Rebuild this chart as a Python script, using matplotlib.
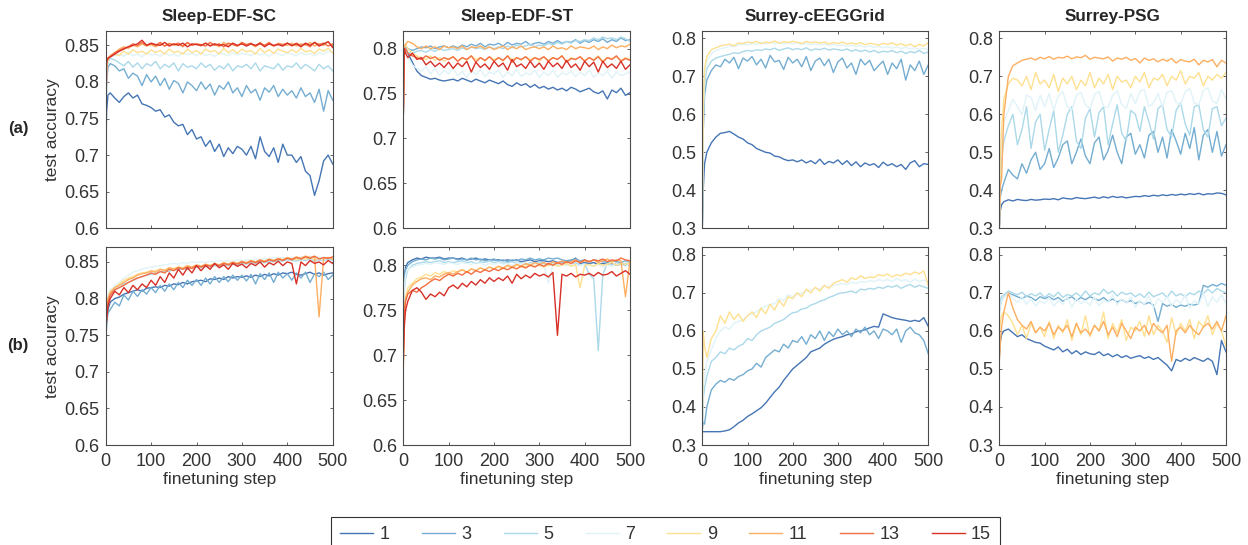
import numpy as np
import matplotlib
matplotlib.use("Agg")
import matplotlib.pyplot as plt

plt.rcParams['font.family'] = ['Liberation Sans', 'DejaVu Sans']

# ---------------- data (accuracy in thousandths) ----------------
steps = [0, 2, 5] + list(range(10, 501, 10))
k_labels = ['1', '3', '5', '7', '9', '11', '13', '15']
k_colors = ['#4575b4', '#74add1', '#abd9e9', '#e0f3f8',
            '#fee090', '#fdae61', '#f46d43', '#d73027']
datasets = ['Sleep-EDF-SC', 'Sleep-EDF-ST', 'Surrey-cEEGGrid', 'Surrey-PSG']
row_tags = ['(a)', '(b)']

# ---- (a) Sleep-EDF-SC ----
sc_a_1 = [700, 760, 782,
          785, 778, 772, 780, 785, 778, 782, 770, 768, 765,
          760, 762, 752, 755, 745, 740, 742, 728, 735, 722,
          725, 712, 720, 705, 715, 698, 710, 702, 712, 708,
          700, 712, 695, 725, 705, 698, 710, 690, 715, 700,
          700, 690, 698, 678, 672, 645, 665, 692, 700, 688]
sc_a_3 = [720, 800, 820,
          825, 822, 815, 818, 805, 812, 808, 795, 810, 800,
          808, 795, 805, 790, 802, 798, 785, 800, 795, 788,
          800, 790, 797, 782, 795, 790, 800, 785, 792, 780,
          795, 785, 790, 775, 792, 786, 795, 780, 790, 782,
          788, 778, 792, 780, 785, 772, 790, 760, 788, 775]
sc_a_5 = [705, 810, 828,
          832, 830, 826, 822, 828, 820, 826, 818, 825, 822,
          828, 818, 824, 820, 826, 815, 825, 820, 822, 818,
          826, 820, 824, 816, 822, 818, 825, 815, 822, 820,
          824, 818, 826, 815, 822, 820, 818, 825, 816, 822,
          820, 826, 818, 824, 820, 815, 824, 818, 822, 815]
sc_a_7 = [720, 815, 830,
          834, 836, 838, 835, 840, 836, 838, 834, 840, 837,
          838, 835, 840, 836, 838, 835, 840, 837, 839, 836,
          840, 836, 838, 835, 840, 838, 836, 840, 837, 839,
          838, 836, 840, 837, 838, 835, 840, 838, 836, 840,
          838, 836, 840, 837, 839, 836, 840, 838, 842, 840]
sc_a_9 = [725, 820, 830,
          835, 838, 836, 842, 838, 844, 840, 842, 838, 844,
          840, 843, 838, 845, 840, 842, 838, 845, 840, 843,
          838, 845, 841, 843, 838, 846, 840, 844, 839, 845,
          841, 843, 838, 846, 840, 844, 839, 845, 842, 840,
          844, 840, 846, 841, 843, 839, 845, 842, 846, 840]
sc_a_11 = [728, 825, 832,
           836, 840, 845, 848, 846, 850, 848, 852, 849, 851,
           848, 852, 849, 853, 850, 852, 848, 853, 850, 852,
           849, 853, 850, 852, 848, 854, 850, 852, 849, 853,
           850, 852, 848, 854, 850, 852, 849, 853, 851, 850,
           853, 849, 852, 850, 854, 849, 852, 850, 855, 848]
sc_a_13 = [730, 826, 833,
           835, 840, 843, 846, 848, 852, 850, 854, 850, 852,
           850, 854, 849, 852, 851, 853, 849, 854, 850, 852,
           851, 849, 854, 850, 852, 848, 853, 851, 849, 854,
           851, 853, 849, 852, 850, 854, 849, 852, 851, 853,
           849, 853, 850, 852, 848, 854, 851, 853, 849, 852]
sc_a_15 = [730, 828, 832,
           834, 838, 842, 845, 848, 850, 852, 857, 850, 853,
           851, 850, 854, 849, 852, 850, 853, 848, 852, 851,
           850, 853, 849, 852, 850, 851, 848, 853, 850, 852,
           849, 852, 850, 853, 848, 852, 850, 851, 849, 853,
           850, 852, 848, 853, 850, 854, 849, 852, 855, 847]

# ---- (a) Sleep-EDF-ST ----
st_a_1 = [725, 800, 800,
          795, 785, 775, 770, 768, 766, 767, 765, 764, 765,
          766, 764, 767, 765, 763, 766, 764, 762, 765, 763,
          761, 764, 760, 758, 762, 759, 761, 757, 760, 756,
          758, 755, 757, 754, 756, 753, 757, 755, 752, 754,
          756, 752, 750, 753, 744, 754, 751, 756, 748, 751]
st_a_3 = [725, 800, 802,
          800, 798, 800, 802, 801, 803, 800, 802, 803, 801,
          803, 801, 804, 802, 805, 803, 806, 802, 805, 804,
          806, 803, 807, 804, 806, 805, 808, 804, 806, 807,
          805, 808, 806, 809, 806, 808, 807, 810, 806, 809,
          807, 810, 808, 811, 807, 810, 808, 812, 809, 810]
st_a_5 = [725, 798, 800,
          796, 795, 797, 798, 796, 799, 797, 800, 798, 799,
          800, 798, 801, 799, 802, 800, 801, 799, 802, 800,
          802, 800, 803, 801, 804, 802, 803, 805, 802, 804,
          803, 806, 804, 807, 805, 808, 806, 809, 808, 810,
          809, 812, 810, 813, 811, 812, 810, 813, 811, 808]
st_a_7 = [725, 798, 795,
          790, 782, 778, 775, 780, 772, 778, 770, 776, 772,
          778, 770, 775, 768, 776, 771, 777, 769, 774, 772,
          776, 768, 774, 770, 777, 769, 773, 771, 776, 768,
          774, 770, 776, 768, 773, 771, 775, 769, 774, 770,
          776, 768, 773, 770, 775, 767, 774, 770, 772, 774]
st_a_9 = [725, 800, 805,
          800, 795, 792, 790, 788, 792, 787, 790, 786, 789,
          791, 786, 790, 787, 792, 788, 790, 786, 791, 788,
          790, 786, 792, 788, 790, 787, 791, 788, 790, 786,
          791, 787, 790, 788, 792, 786, 790, 788, 791, 787,
          790, 788, 792, 786, 790, 789, 791, 787, 790, 788]
st_a_11 = [725, 802, 805,
           808, 806, 802, 800, 803, 800, 802, 799, 803, 801,
           802, 800, 803, 799, 802, 801, 803, 800, 802, 799,
           801, 803, 799, 802, 800, 803, 799, 801, 802, 800,
           802, 799, 803, 800, 801, 799, 803, 800, 802, 801,
           800, 803, 799, 802, 800, 804, 801, 803, 802, 805]
st_a_13 = [725, 798, 800,
           795, 792, 790, 788, 792, 789, 791, 787, 790, 788,
           791, 786, 790, 788, 792, 785, 790, 787, 791, 786,
           790, 787, 792, 785, 790, 788, 791, 786, 790, 788,
           791, 786, 790, 788, 792, 785, 789, 788, 791, 786,
           790, 787, 791, 785, 790, 788, 792, 786, 789, 787]
st_a_15 = [725, 800, 795,
           790, 795, 788, 790, 782, 786, 780, 784, 779, 785,
           778, 784, 780, 786, 774, 785, 779, 783, 777, 786,
           780, 784, 776, 788, 780, 783, 778, 786, 779, 784,
           777, 786, 780, 784, 778, 787, 779, 783, 776, 786,
           780, 785, 774, 786, 779, 783, 778, 786, 777, 782]

# ---- (a) Surrey-cEEGGrid ----
cg_a_1 = [300, 400, 470,
          500, 525, 540, 550, 552, 555, 548, 540, 535, 525,
          520, 510, 505, 500, 498, 490, 488, 482, 478, 480,
          475, 480, 472, 478, 470, 482, 468, 476, 472, 480,
          468, 478, 465, 475, 462, 472, 466, 470, 460, 474,
          465, 470, 462, 468, 455, 472, 478, 462, 470, 468]
cg_a_3 = [300, 550, 650,
          690, 715, 730, 725, 745, 735, 750, 720, 748, 740,
          752, 730, 745, 722, 755, 738, 742, 718, 750, 735,
          745, 725, 752, 715, 740, 748, 728, 745, 710, 738,
          748, 722, 735, 705, 745, 730, 742, 715, 728, 740,
          705, 735, 720, 745, 690, 730, 715, 740, 705, 730]
cg_a_5 = [300, 580, 680,
          720, 740, 748, 752, 755, 758, 762, 760, 765, 768,
          766, 770, 768, 772, 770, 774, 768, 772, 775, 770,
          773, 770, 775, 768, 772, 770, 774, 769, 772, 770,
          768, 772, 766, 770, 765, 769, 764, 768, 762, 766,
          764, 768, 762, 766, 760, 765, 762, 768, 760, 764]
cg_a_7 = [300, 600, 700,
          740, 760, 768, 772, 775, 780, 778, 782, 785, 783,
          786, 784, 788, 785, 790, 786, 789, 785, 788, 786,
          788, 784, 787, 783, 786, 782, 785, 781, 784, 780,
          783, 779, 782, 778, 781, 777, 780, 776, 779, 775,
          778, 774, 777, 773, 776, 772, 775, 771, 774, 770]
cg_a_9 = [300, 620, 720,
          752, 770, 775, 780, 782, 785, 780, 788, 786, 790,
          788, 792, 786, 790, 788, 793, 787, 791, 789, 792,
          790, 786, 792, 788, 791, 787, 790, 785, 789, 786,
          790, 785, 788, 784, 789, 783, 787, 785, 782, 787,
          784, 788, 782, 786, 780, 785, 778, 784, 780, 788]

# ---- (a) Surrey-PSG ----
psg_a_1 = [300, 345, 362,
           370, 375, 372, 376, 374, 373, 376, 374, 375, 377,
           376, 378, 375, 380, 378, 377, 381, 379, 378, 380,
           382, 379, 383, 380, 384, 381, 383, 380, 382, 384,
           383, 386, 384, 387, 385, 388, 386, 389, 387, 390,
           388, 391, 389, 392, 388, 391, 390, 393, 392, 388]
psg_a_3 = [300, 380, 400,
           420, 455, 440, 430, 470, 445, 480, 500, 455, 470,
           510, 460, 485, 520, 530, 470, 500, 535, 490, 470,
           525, 540, 480, 505, 545, 500, 470, 540, 550, 495,
           520, 485, 545, 555, 500, 540, 485, 560, 530, 495,
           550, 510, 565, 480, 545, 560, 500, 555, 490, 520]
psg_a_5 = [300, 420, 480,
           530, 570, 600, 520, 560, 620, 510, 580, 600, 505,
           560, 610, 500, 545, 600, 620, 530, 510, 590, 615,
           540, 605, 620, 520, 575, 625, 550, 530, 610, 600,
           555, 620, 580, 535, 615, 625, 560, 540, 610, 630,
           575, 545, 620, 625, 560, 540, 615, 620, 570, 590]
psg_a_7 = [300, 450, 520,
           580, 610, 640, 620, 600, 650, 645, 610, 650, 620,
           655, 610, 648, 660, 620, 612, 650, 658, 625, 615,
           652, 660, 620, 618, 650, 662, 625, 615, 655, 628,
           660, 665, 620, 630, 655, 620, 658, 662, 632, 625,
           660, 668, 630, 625, 662, 670, 635, 628, 665, 640]
psg_a_9 = [300, 480, 560,
           640, 680, 695, 690, 675, 700, 665, 710, 680, 690,
           670, 705, 660, 695, 680, 700, 665, 690, 675, 710,
           670, 695, 680, 705, 665, 700, 685, 690, 670, 700,
           685, 710, 670, 695, 690, 705, 675, 700, 690, 715,
           680, 700, 695, 710, 675, 700, 690, 705, 695, 710]
psg_a_11 = [300, 410, 430,
            600, 700, 728, 735, 742, 745, 748, 743, 750, 746,
            752, 745, 750, 748, 753, 746, 751, 749, 755, 745,
            750, 748, 746, 751, 740, 748, 745, 750, 742, 747,
            735, 748, 742, 746, 738, 745, 740, 747, 735, 744,
            740, 738, 745, 730, 742, 738, 744, 725, 742, 735]

# ---- (b) Sleep-EDF-SC ----
sc_b_1 = [730, 770, 785,
          795, 800, 802, 806, 808, 810, 812, 810, 814, 815,
          816, 815, 818, 817, 820, 819, 822, 820, 823, 824,
          825, 823, 827, 826, 828, 826, 830, 828, 830, 829,
          831, 829, 832, 830, 833, 831, 834, 832, 835, 834,
          836, 833, 832, 834, 836, 833, 835, 832, 834, 835]
sc_b_3 = [740, 765, 780,
          785, 795, 790, 805, 798, 810, 803, 812, 806, 815,
          808, 818, 810, 820, 812, 822, 815, 825, 818, 826,
          818, 828, 820, 830, 822, 830, 823, 832, 825, 832,
          824, 833, 820, 834, 826, 835, 822, 836, 828, 834,
          825, 835, 828, 836, 822, 834, 830, 836, 826, 832]
sc_b_5 = [750, 780, 795,
          805, 812, 815, 820, 822, 825, 828, 830, 832, 833,
          835, 836, 838, 837, 840, 839, 841, 840, 842, 843,
          842, 844, 843, 845, 844, 846, 845, 847, 846, 848,
          847, 849, 848, 850, 849, 851, 850, 852, 851, 853,
          852, 851, 853, 852, 854, 851, 853, 852, 854, 852]
sc_b_7 = [755, 790, 805,
          812, 818, 822, 828, 832, 836, 838, 840, 842, 843,
          844, 845, 846, 847, 848, 847, 849, 848, 850, 849,
          850, 849, 851, 850, 852, 851, 852, 851, 853, 852,
          853, 852, 854, 853, 855, 854, 856, 855, 856, 855,
          856, 855, 857, 856, 858, 856, 857, 855, 856, 855]
sc_b_9 = [750, 785, 800,
          810, 815, 820, 825, 828, 830, 833, 835, 836, 837,
          838, 840, 839, 842, 841, 843, 842, 844, 843, 845,
          844, 846, 845, 847, 846, 848, 847, 849, 848, 850,
          849, 851, 850, 852, 851, 853, 852, 854, 853, 855,
          854, 853, 855, 854, 856, 853, 855, 854, 856, 854]
sc_b_11 = [750, 780, 800,
           808, 815, 818, 822, 826, 828, 832, 834, 835, 838,
           836, 840, 838, 842, 840, 843, 841, 845, 843, 846,
           844, 847, 845, 848, 846, 849, 847, 850, 848, 851,
           849, 852, 850, 853, 851, 854, 852, 855, 853, 856,
           854, 857, 855, 858, 856, 857, 775, 855, 856, 854]
sc_b_13 = [750, 775, 795,
           805, 812, 815, 818, 822, 825, 828, 830, 832, 835,
           833, 837, 835, 840, 838, 842, 840, 843, 841, 845,
           843, 846, 844, 847, 845, 848, 846, 849, 847, 850,
           848, 851, 849, 852, 850, 853, 851, 854, 852, 855,
           853, 856, 854, 857, 855, 858, 854, 856, 855, 857]
sc_b_15 = [760, 770, 790,
           800, 810, 805, 815, 808, 818, 812, 820, 815, 825,
           818, 830, 822, 835, 828, 840, 832, 842, 835, 845,
           838, 845, 840, 848, 842, 846, 840, 848, 844, 847,
           842, 848, 845, 850, 843, 849, 846, 851, 845, 850,
           848, 820, 850, 845, 852, 848, 850, 846, 852, 848]

# ---- (b) Sleep-EDF-ST ----
st_b_1 = [745, 785, 798,
          803, 806, 808, 807, 809, 808, 808, 809, 807, 808,
          808, 807, 808, 806, 807, 808, 806, 807, 806, 806,
          806, 805, 806, 805, 806, 804, 805, 806, 804, 805,
          805, 804, 805, 803, 804, 803, 805, 808, 802, 803,
          802, 803, 801, 802, 801, 802, 800, 801, 800, 800]
st_b_3 = [740, 780, 795,
          800, 804, 806, 807, 806, 808, 807, 808, 806, 807,
          808, 806, 807, 806, 808, 806, 807, 805, 806, 807,
          805, 806, 804, 806, 805, 807, 806, 808, 806, 807,
          806, 808, 807, 808, 806, 805, 806, 807, 805, 806,
          804, 806, 805, 804, 803, 805, 804, 803, 805, 804]
st_b_5 = [730, 770, 785,
          795, 800, 802, 803, 804, 803, 804, 805, 803, 804,
          803, 804, 805, 803, 804, 802, 804, 803, 805, 803,
          804, 802, 803, 804, 802, 803, 801, 803, 802, 804,
          802, 800, 803, 801, 802, 800, 801, 803, 800, 802,
          790, 785, 705, 790, 802, 800, 803, 801, 802, 804]
st_b_7 = [730, 775, 790,
          796, 798, 800, 801, 802, 801, 803, 802, 801, 803,
          802, 801, 803, 802, 801, 803, 802, 800, 802, 801,
          803, 801, 802, 800, 802, 801, 803, 800, 802, 801,
          800, 780, 801, 800, 802, 800, 801, 799, 800, 801,
          800, 799, 801, 798, 800, 799, 801, 800, 799, 801]
st_b_9 = [680, 740, 765,
          775, 780, 785, 787, 790, 788, 792, 790, 793, 791,
          794, 792, 795, 793, 796, 794, 797, 795, 798, 796,
          798, 796, 799, 797, 800, 798, 799, 801, 799, 800,
          798, 800, 801, 799, 800, 802, 799, 801, 775, 800,
          801, 799, 802, 800, 801, 803, 800, 802, 801, 803]
st_b_11 = [690, 740, 762,
           770, 778, 782, 785, 786, 784, 788, 787, 790, 792,
           790, 793, 795, 792, 796, 794, 797, 795, 798, 796,
           799, 797, 800, 798, 801, 799, 802, 800, 803, 801,
           803, 801, 804, 802, 805, 803, 804, 806, 803, 805,
           804, 806, 803, 805, 807, 804, 806, 805, 765, 805]
st_b_13 = [700, 745, 760,
           768, 772, 770, 775, 778, 782, 785, 783, 787, 790,
           788, 791, 789, 793, 790, 794, 792, 795, 793, 796,
           794, 797, 795, 798, 796, 799, 797, 800, 798, 801,
           799, 802, 800, 803, 801, 804, 802, 805, 803, 806,
           804, 806, 805, 807, 804, 806, 805, 808, 806, 805]
st_b_15 = [690, 730, 750,
           760, 772, 775, 770, 762, 768, 765, 770, 766, 775,
           778, 774, 780, 776, 782, 778, 784, 780, 786, 782,
           786, 783, 788, 780, 790, 785, 789, 786, 791, 788,
           790, 787, 792, 722, 790, 788, 791, 787, 790, 789,
           791, 788, 792, 789, 790, 793, 788, 791, 794, 790]

# ---- (b) Surrey-cEEGGrid ----
cg_b_1 = [335, 335, 335,
          335, 335, 335, 335, 337, 340, 348, 358, 365, 375,
          382, 390, 398, 410, 425, 440, 452, 470, 485, 500,
          510, 520, 530, 545, 550, 555, 565, 572, 578, 582,
          585, 590, 592, 598, 600, 603, 608, 612, 610, 645,
          640, 635, 632, 630, 628, 625, 628, 625, 635, 612]
cg_b_3 = [340, 360, 355,
          400, 445, 460, 470, 465, 475, 470, 480, 485, 495,
          500, 515, 505, 530, 540, 550, 545, 565, 555, 575,
          570, 585, 565, 590, 580, 600, 575, 598, 585, 605,
          590, 600, 585, 605, 595, 610, 590, 600, 580, 605,
          600, 590, 605, 570, 600, 610, 595, 590, 575, 540]
cg_b_5 = [340, 420, 450,
          480, 520, 530, 545, 540, 555, 550, 560, 565, 580,
          575, 590, 600, 605, 610, 620, 625, 630, 640, 648,
          650, 658, 660, 668, 672, 678, 682, 688, 692, 698,
          700, 702, 705, 700, 710, 708, 712, 710, 715, 712,
          718, 715, 720, 712, 718, 722, 715, 720, 716, 712]
cg_b_7 = [340, 450, 480,
          520, 550, 580, 600, 610, 605, 620, 625, 630, 640,
          645, 650, 660, 665, 670, 672, 685, 680, 695, 690,
          700, 698, 705, 708, 712, 710, 718, 715, 720, 722,
          725, 722, 728, 725, 730, 728, 732, 730, 735, 732,
          735, 730, 738, 732, 735, 728, 736, 730, 734, 730]
cg_b_9 = [330, 600, 560,
          530, 580, 600, 640, 620, 650, 630, 645, 625, 640,
          650, 635, 660, 645, 670, 655, 680, 665, 690, 685,
          700, 690, 710, 700, 715, 705, 720, 712, 725, 730,
          735, 728, 740, 735, 745, 738, 742, 740, 748, 745,
          750, 742, 748, 745, 752, 748, 755, 750, 758, 720]

# ---- (b) Surrey-PSG ----
psg_b_1 = [530, 570, 590,
           600, 605, 595, 585, 590, 580, 575, 570, 568, 560,
           555, 550, 558, 545, 552, 540, 548, 538, 545, 540,
           538, 545, 535, 540, 532, 538, 530, 535, 528, 532,
           535, 528, 532, 525, 530, 520, 510, 495, 525, 520,
           528, 522, 530, 525, 520, 528, 520, 485, 575, 545]
psg_b_3 = [650, 665, 680,
           690, 700, 695, 690, 685, 692, 688, 680, 690, 685,
           690, 682, 688, 678, 685, 690, 680, 688, 682, 690,
           685, 680, 688, 678, 684, 676, 682, 675, 680, 672,
           678, 670, 675, 668, 625, 672, 665, 670, 662, 668,
           665, 670, 668, 672, 720, 715, 722, 718, 725, 720]
psg_b_5 = [660, 680, 690,
           695, 705, 700, 695, 702, 690, 698, 692, 700, 688,
           698, 690, 702, 688, 696, 692, 700, 690, 705, 692,
           700, 695, 710, 698, 705, 692, 702, 696, 700, 690,
           698, 688, 702, 690, 695, 700, 688, 705, 692, 698,
           690, 700, 695, 705, 698, 710, 700, 712, 705, 700]
psg_b_7 = [640, 665, 680,
           690, 700, 685, 675, 690, 670, 685, 665, 680, 672,
           688, 665, 680, 670, 690, 662, 685, 672, 680, 668,
           690, 665, 682, 675, 695, 668, 685, 672, 690, 662,
           680, 670, 692, 660, 685, 675, 690, 665, 682, 672,
           695, 660, 680, 670, 700, 665, 690, 675, 695, 672]
psg_b_9 = [600, 620, 640,
           650, 640, 620, 590, 615, 580, 620, 595, 610, 585,
           625, 580, 615, 595, 630, 575, 620, 590, 640, 585,
           615, 600, 650, 580, 620, 595, 630, 575, 610, 600,
           625, 585, 640, 590, 615, 600, 570, 635, 590, 620,
           600, 630, 580, 625, 610, 640, 590, 620, 600, 560]
psg_b_11 = [520, 560, 610,
            650, 700, 660, 630, 615, 605, 625, 595, 610, 600,
            620, 590, 610, 600, 615, 585, 620, 595, 605, 590,
            615, 600, 625, 590, 610, 585, 620, 600, 580, 610,
            600, 615, 590, 620, 605, 595, 615, 520, 600, 610,
            595, 615, 600, 590, 610, 620, 605, 625, 600, 640]

panel_series = [
    [[sc_a_1, sc_a_3, sc_a_5, sc_a_7, sc_a_9, sc_a_11, sc_a_13, sc_a_15],
     [st_a_1, st_a_3, st_a_5, st_a_7, st_a_9, st_a_11, st_a_13, st_a_15],
     [cg_a_1, cg_a_3, cg_a_5, cg_a_7, cg_a_9],
     [psg_a_1, psg_a_3, psg_a_5, psg_a_7, psg_a_9, psg_a_11]],
    [[sc_b_1, sc_b_3, sc_b_5, sc_b_7, sc_b_9, sc_b_11, sc_b_13, sc_b_15],
     [st_b_1, st_b_3, st_b_5, st_b_7, st_b_9, st_b_11, st_b_13, st_b_15],
     [cg_b_1, cg_b_3, cg_b_5, cg_b_7, cg_b_9],
     [psg_b_1, psg_b_3, psg_b_5, psg_b_7, psg_b_9, psg_b_11]],
]

y_limits = [(0.6, 0.87), (0.6, 0.82), (0.3, 0.82), (0.3, 0.82)]
y_ticks = [[0.6, 0.65, 0.7, 0.75, 0.8, 0.85],
           [0.6, 0.65, 0.7, 0.75, 0.8],
           [0.3, 0.4, 0.5, 0.6, 0.7, 0.8],
           [0.3, 0.4, 0.5, 0.6, 0.7, 0.8]]
x_ticks = [0, 100, 200, 300, 400, 500]

# ---------------- figure ----------------
W, H = 1248, 545
fig = plt.figure(figsize=(W / 100, H / 100), dpi=100)

col_left = [105.7, 403.3, 702.3, 999.3]
col_right = [332.7, 630.0, 928.3, 1226.0]
row_top = [30.7, 247.3]
row_bot = [228.3, 445.0]

text_col = '#333333'
spine_col = '#4a4a4a'

handles = []
for r in range(2):
    for c in range(4):
        l, rr = col_left[c], col_right[c]
        t, b = row_top[r], row_bot[r]
        ax = fig.add_axes([l / W, 1 - b / H, (rr - l) / W, (b - t) / H])
        for i, series in enumerate(panel_series[r][c]):
            ln, = ax.plot(steps, np.array(series) / 1000.0, color=k_colors[i],
                          lw=1.0, label=k_labels[i])
            if r == 0 and c == 0:
                handles.append(ln)
        ax.set_xlim(0, 500)
        ax.set_ylim(*y_limits[c])
        ax.set_xticks(x_ticks)
        ax.set_yticks(y_ticks[c])
        ax.set_yticklabels([f"{v:g}" for v in y_ticks[c]])
        ax.tick_params(direction='in', top=True, right=True, length=2.5,
                       width=0.6, color=spine_col, labelcolor=text_col,
                       labelsize=13)
        ax.tick_params(axis='y', pad=4.5)
        ax.tick_params(axis='x', pad=5.5)
        for s in ax.spines.values():
            s.set_color(spine_col)
            s.set_linewidth(0.8)
        if r == 0:
            ax.set_xticklabels([])
            ax.set_title(datasets[c], fontsize=12.3, fontweight='bold',
                         color='#262626', pad=7)
        else:
            ax.set_xticklabels([str(v) for v in x_ticks])
            ax.set_xlabel('finetuning step', fontsize=12.5, color=text_col,
                          labelpad=2)
        if c == 0:
            ax.set_ylabel('test accuracy', fontsize=12.5, color=text_col)
            ax.yaxis.set_label_coords(-0.20, 0.5)

for r, tag in enumerate(row_tags):
    yc = (row_top[r] + row_bot[r]) / 2 - 1
    fig.text(18 / W, 1 - yc / H, tag, ha='center', va='center',
             fontsize=12, fontweight='bold', color='#262626')

leg = fig.legend(handles, k_labels, loc='upper left',
                 bbox_to_anchor=(331 / W, 1 - 517 / H), ncol=8,
                 borderaxespad=0, fontsize=13, handlelength=1.83,
                 handletextpad=0.35, columnspacing=1.8, borderpad=0.5,
                 fancybox=False, framealpha=1, edgecolor='#333333')
leg.get_frame().set_linewidth(0.8)
for txt in leg.get_texts():
    txt.set_color(text_col)

fig.savefig('out.png', dpi=100)
